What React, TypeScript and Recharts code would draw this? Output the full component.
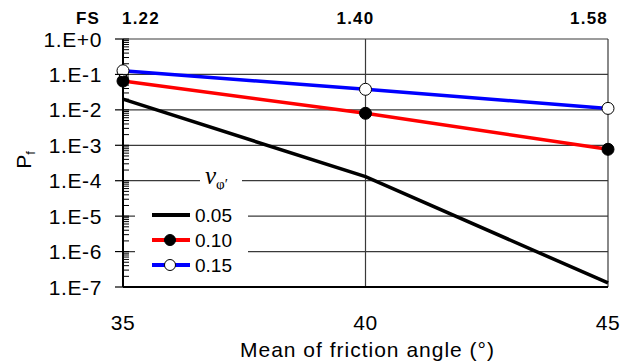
import { LineChart, Line, XAxis, YAxis, ReferenceLine, Legend, Label } from 'recharts';

const FONT = '"Liberation Sans", Arial, sans-serif';
const GRID = '#3a3a3a';

// mean friction angle (deg) and the matching factor of safety
const frictionAngles = [35, 40, 45];
const fsLabels = ['1.22', '1.40', '1.58'];

// probability of failure for each COV of friction angle
const pfCov005 = [2.0e-2, 1.3e-4, 1.3e-7];
const pfCov010 = [6.5e-2, 8.0e-3, 7.7e-4];
const pfCov015 = [1.27e-1, 3.8e-2, 1.1e-2];

const majorTicks = [1e-7, 1e-6, 1e-5, 1e-4, 1e-3, 1e-2, 1e-1, 1];
const majorTickLabels = ['1.E-7', '1.E-6', '1.E-5', '1.E-4', '1.E-3', '1.E-2', '1.E-1', '1.E+0'];
const minorMultipliers = [2, 3, 4, 5, 6, 7, 8, 9];
const minorTicks = majorTicks.slice(0, -1).flatMap((d) => minorMultipliers.map((m) => m * d));
const allTicks = [...majorTicks, ...minorTicks].sort((a, b) => a - b);

const data = frictionAngles.map((angle, i) => ({
	angle,
	c05: pfCov005[i],
	c10: pfCov010[i],
	c15: pfCov015[i],
}));

const series = [
	{ key: 'c05', name: '0.05', color: '#000000', dotFill: null },
	{ key: 'c10', name: '0.10', color: '#FF0000', dotFill: '#000000' },
	{ key: 'c15', name: '0.15', color: '#0000FF', dotFill: '#FFFFFF' },
];

const majorIndex = (v: number) =>
	majorTicks.findIndex((t) => Math.abs(Math.log10(t) - Math.log10(v)) < 1e-6);

// left axis: tick label for decades, outward tick for decades, inward tick for everything
const LeftTick = ({ x, y, payload }: any) => {
	const i = majorIndex(payload.value);
	return (
		<g>
			<line x1={x} x2={x + 6} y1={y} y2={y} stroke="#000" strokeWidth={1} />
			{i >= 0 && <line x1={x - 8} x2={x} y1={y} y2={y} stroke="#000" strokeWidth={1.2} />}
			{i >= 0 && (
				<text x={x - 21} y={y} dy="0.36em" textAnchor="end" fontSize={21} fontFamily={FONT} fill="#000" letterSpacing={0.6}>
					{majorTickLabels[i]}
				</text>
			)}
		</g>
	);
};

const BottomTick = ({ x, y, payload }: any) => (
	<text x={x} y={y + 43} textAnchor="middle" fontSize={21} fontFamily={FONT} fill="#000" letterSpacing={0.6}>
		{payload.value}
	</text>
);

const TopTick = ({ x, payload, index }: any) => {
	const anchor = index === 0 ? 'start' : index === frictionAngles.length - 1 ? 'end' : 'middle';
	const dx = index === 0 ? -1 : index === frictionAngles.length - 1 ? 0 : -10;
	return (
		<text x={x + dx} y={24} textAnchor={anchor} fontSize={17} fontWeight="bold" fontFamily={FONT} fill="#000" letterSpacing={1.2}>
			{fsLabels[frictionAngles.indexOf(payload.value)]}
		</text>
	);
};

const FsTitle = ({ viewBox }: any) => (
	<text x={viewBox.x - 23} y={24} textAnchor="end" fontSize={17} fontWeight="bold" fontFamily={FONT} fill="#000" letterSpacing={1.2}>
		FS
	</text>
);

const XTitle = ({ viewBox }: any) => (
	<text x={viewBox.x + viewBox.width / 2 + 2} y={viewBox.y + 70} textAnchor="middle" fontSize={21} fontFamily={FONT} fill="#000" letterSpacing={1}>
		Mean of friction angle (°)
	</text>
);

const YTitle = () => (
	<text transform="translate(31,160) rotate(-90)" textAnchor="middle" fontSize={21} fontFamily={FONT} fill="#000">
		P
		<tspan fontSize={13} dy={4}>
			f
		</tspan>
	</text>
);

const LegendBox = () => (
	<svg width={113} height={110} style={{ display: 'block', overflow: 'visible' }}>
		<rect x={65} y={0} width={42} height={26} fill="#fff" />
		<text x={70} y={16} fontFamily='"Liberation Serif", "Times New Roman", serif' fontStyle="italic" fontSize={25} fill="#000">
			ν
			<tspan fontSize={15} fontStyle="normal" dy={5}>
				φ′
			</tspan>
		</text>
		<rect x={0} y={22} width={113} height={86} fill="#fff" />
		{series.map((s, i) => {
			const cy = 47 + i * 25;
			return (
				<g key={s.key}>
					<line x1={17} x2={55} y1={cy} y2={cy} stroke={s.color} strokeWidth={4} />
					{s.dotFill && <circle cx={35} cy={cy} r={5.5} fill={s.dotFill} stroke="#000" strokeWidth={1} />}
					<text x={60} y={cy + 7} fontSize={19} fontFamily={FONT} fill="#000">
						{s.name}
					</text>
				</g>
			);
		})}
	</svg>
);

export default function App() {
	return (
		<div style={{ position: 'absolute', left: 0, top: 0, width: 635, height: 361, background: '#fff' }}>
			<LineChart width={635} height={361} data={data} margin={{ top: 0, right: 27, bottom: 0, left: 0 }}>
				<XAxis
					xAxisId="x"
					dataKey="angle"
					type="number"
					domain={[35, 45]}
					ticks={frictionAngles}
					interval={0}
					height={74}
					tickSize={0}
					tickMargin={0}
					axisLine={{ stroke: '#000', strokeWidth: 2 }}
					tick={BottomTick}
				>
					<Label content={XTitle} />
				</XAxis>
				<XAxis
					xAxisId="top"
					orientation="top"
					dataKey="angle"
					type="number"
					domain={[35, 45]}
					ticks={frictionAngles}
					interval={0}
					height={39}
					tickSize={0}
					axisLine={false}
					tick={TopTick}
				>
					<Label content={FsTitle} />
				</XAxis>
				<YAxis
					yAxisId="p"
					scale="log"
					domain={[1e-7, 1]}
					ticks={allTicks}
					interval={0}
					width={123}
					tickSize={0}
					tickMargin={0}
					tickLine={false}
					axisLine={{ stroke: '#000', strokeWidth: 2 }}
					tick={LeftTick}
				>
					<Label content={YTitle} />
				</YAxis>
				{majorTicks.slice(1).map((t) => (
					<ReferenceLine key={t} xAxisId="x" yAxisId="p" y={t} stroke={GRID} strokeWidth={1.2} />
				))}
				{frictionAngles.slice(1).map((a) => (
					<ReferenceLine key={a} xAxisId="x" yAxisId="p" x={a} stroke={GRID} strokeWidth={1.2} />
				))}
				<Legend
					layout="vertical"
					align="center"
					verticalAlign="middle"
					content={LegendBox}
					wrapperStyle={{ left: 135, top: 168, width: 113, height: 110 }}
				/>
				{series.map((s) => (
					<Line
						key={s.key}
						xAxisId="x"
						yAxisId="p"
						dataKey={s.key}
						name={s.name}
						type="linear"
						stroke={s.color}
						strokeWidth={3.5}
						dot={s.dotFill ? { r: 6, fill: s.dotFill, stroke: '#000', strokeWidth: 1 } : false}
						activeDot={false}
						isAnimationActive={false}
					/>
				))}
			</LineChart>
		</div>
	);
}
